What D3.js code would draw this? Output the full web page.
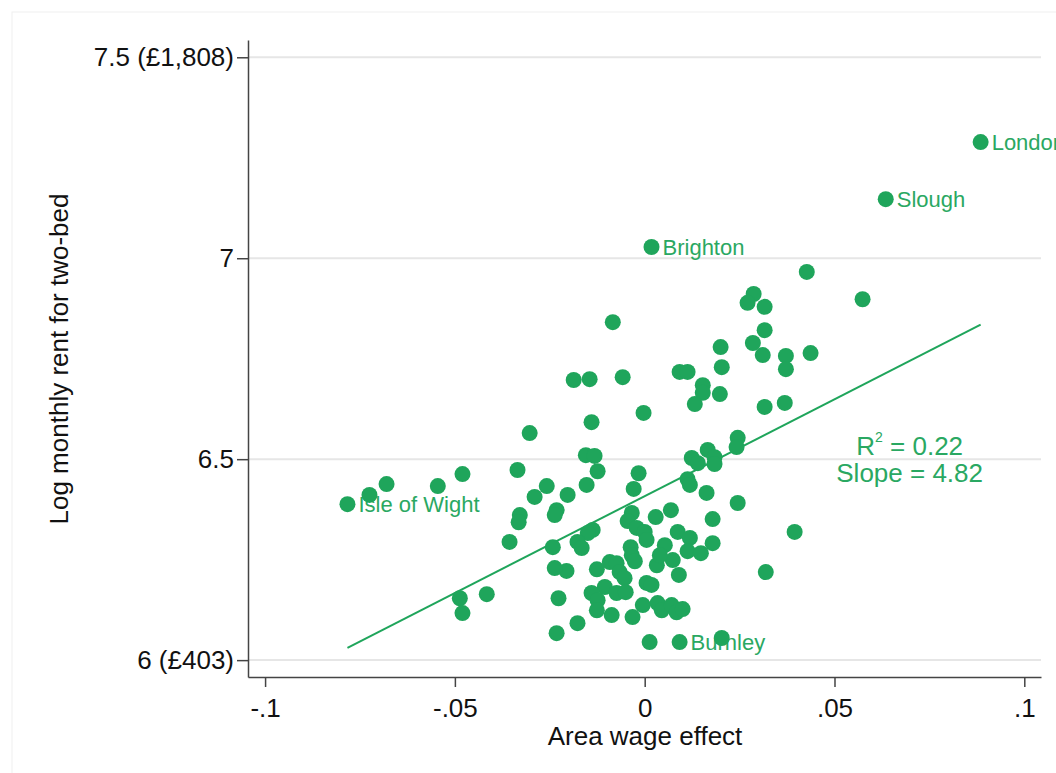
<!DOCTYPE html>
<html>
<head>
<meta charset="utf-8">
<script src="https://cdn.jsdelivr.net/npm/d3@7"></script>
<style>
    body { margin: 0; background: #fff; }
    text { font-family: "Liberation Sans", Arial, sans-serif; }
</style>
</head>
<body>
<script>
// Labelled areas
const labelNames = ["London", "Slough", "Brighton", "Isle of Wight", "Burnley"];
const labelWage = [0.0885, 0.0635, 0.0018, -0.0783, 0.0092];
const labelRent = [7.289, 7.147, 7.028, 6.388, 6.045];

// Other areas: area wage effect and log monthly rent
const wageEffect = [
    0.0427, 0.0574, 0.0287, 0.0271, 0.0316, 0.0316, 0.0285, 0.0311, 0.0200, 0.0203,
    0.0372, 0.0372, 0.0437, -0.0084, 0.0092, 0.0113, 0.0153, 0.0153, 0.0198, 0.0132,
    0.0316, 0.0369, -0.0187, -0.0145, -0.0058, -0.0140, -0.0003, -0.0303, -0.0155, -0.0132,
    -0.0124, -0.0153, -0.0016, -0.0029, 0.0124, 0.0140, 0.0166, 0.0184, 0.0184, 0.0245,
    0.0242, 0.0113, 0.0119, 0.0163, 0.0245, 0.0069, 0.0029, 0.0179, 0.0395, 0.0087,
    0.0119, 0.0053, 0.0179, 0.0113, 0.0148, 0.0074, 0.0090, 0.0319, 0.0032, 0.0005,
    0.0018, -0.0005, 0.0034, 0.0045, 0.0071, 0.0084, 0.0100, 0.0013, 0.0203, -0.0203,
    -0.0034, -0.0045, -0.0137, -0.0150, -0.0021, 0.0000, -0.0177, -0.0166, -0.0037, 0.0005,
    -0.0034, 0.0040, -0.0026, -0.0092, -0.0074, -0.0126, -0.0206, -0.0066, -0.0053, -0.0105,
    -0.0140, -0.0074, -0.0050, -0.0124, -0.0126, -0.0087, -0.0032, -0.0177, -0.0232, -0.0335,
    -0.0258, -0.0290, -0.0232, -0.0237, -0.0329, -0.0332, -0.0356, -0.0242, -0.0237, -0.0487,
    -0.0416, -0.0480, -0.0227, -0.0480, -0.0545, -0.0680, -0.0725
];
const logRent = [
    6.966, 6.898, 6.911, 6.889, 6.879, 6.821, 6.789, 6.759, 6.779, 6.729,
    6.757, 6.724, 6.764, 6.841, 6.717, 6.717, 6.684, 6.665, 6.662, 6.637,
    6.630, 6.640, 6.697, 6.699, 6.704, 6.592, 6.615, 6.565, 6.510, 6.508,
    6.470, 6.436, 6.465, 6.426, 6.503, 6.490, 6.523, 6.505, 6.488, 6.553,
    6.530, 6.450, 6.436, 6.416, 6.391, 6.373, 6.356, 6.351, 6.319, 6.319,
    6.304, 6.286, 6.291, 6.271, 6.266, 6.249, 6.212, 6.219, 6.236, 6.192,
    6.187, 6.137, 6.142, 6.124, 6.137, 6.119, 6.127, 6.045, 6.055, 6.411,
    6.366, 6.346, 6.324, 6.316, 6.329, 6.319, 6.294, 6.279, 6.281, 6.299,
    6.261, 6.261, 6.246, 6.244, 6.241, 6.226, 6.222, 6.219, 6.204, 6.182,
    6.167, 6.167, 6.169, 6.149, 6.124, 6.112, 6.107, 6.092, 6.067, 6.473,
    6.433, 6.406, 6.373, 6.361, 6.361, 6.343, 6.294, 6.281, 6.229, 6.154,
    6.164, 6.117, 6.154, 6.463, 6.433, 6.438, 6.411
];

// Fitted line
const fitIntercept = 6.408;
const fitSlope = 4.82;
const rSquared = "0.22";

// Axis ticks
const xTicks = [-0.1, -0.05, 0, 0.05, 0.1];
const xTickLabels = ["-.1", "-.05", "0", ".05", ".1"];
const yTicks = [6, 6.5, 7, 7.5];
const yTickLabels = ["6 (£403)", "6.5", "7", "7.5 (£1,808)"];

const green = "#1fa55b";
const textGreen = "#2aa862";

// Set up dimensions
const W = 1056, H = 773;
const margin = { top: 40, right: 15, bottom: 96, left: 248 };
const width = W - margin.left - margin.right;
const height = H - margin.top - margin.bottom;

const svg = d3.select("body")
    .append("svg")
    .attr("width", W)
    .attr("height", H);

// faint outer frame
svg.append("rect")
    .attr("x", 12).attr("y", 12)
    .attr("width", W).attr("height", H)
    .attr("fill", "none")
    .attr("stroke", "#efefef");

const g = svg.append("g")
    .attr("transform", `translate(${margin.left},${margin.top})`);

// Scales
const x = d3.scaleLinear().domain([-0.1045, 0.1044]).range([0, width]);
const y = d3.scaleLinear().domain([5.958, 7.543]).range([height, 0]);

// Gridlines
g.selectAll(".grid")
    .data(yTicks)
    .enter().append("line")
    .attr("class", "grid")
    .attr("x1", 0)
    .attr("x2", width)
    .attr("y1", d => y(d))
    .attr("y2", d => y(d))
    .attr("stroke", "#e6e6e6")
    .attr("stroke-width", 2);

// Axes
const yAxis = g.append("g")
    .call(d3.axisLeft(y)
        .tickValues(yTicks)
        .tickFormat((d, i) => yTickLabels[i])
        .tickSize(11)
        .tickSizeOuter(0)
        .tickPadding(3));

const xAxis = g.append("g")
    .attr("transform", `translate(0,${height})`)
    .call(d3.axisBottom(x)
        .tickValues(xTicks)
        .tickFormat((d, i) => xTickLabels[i])
        .tickSize(10)
        .tickSizeOuter(0)
        .tickPadding(12));

[xAxis, yAxis].forEach(ax => {
    ax.select(".domain").attr("stroke", "#444").attr("stroke-width", 1.5);
    ax.selectAll(".tick line").attr("stroke", "#444").attr("stroke-width", 1.5);
    ax.selectAll(".tick text")
        .style("font-family", "'Liberation Sans', Arial, sans-serif")
        .style("font-size", "26px")
        .attr("fill", "#111");
});

// Axis titles
svg.append("text")
    .attr("x", 645)
    .attr("y", 745)
    .attr("text-anchor", "middle")
    .style("font-size", "26px")
    .attr("fill", "#111")
    .text("Area wage effect");

svg.append("text")
    .attr("transform", "rotate(-90)")
    .attr("x", -359)
    .attr("y", 68)
    .attr("text-anchor", "middle")
    .style("font-size", "26px")
    .attr("fill", "#111")
    .text("Log monthly rent for two-bed");

// Fitted line across the data range
const allX = wageEffect.concat(labelWage);
const xMin = d3.min(allX), xMax = d3.max(allX);
g.append("line")
    .attr("x1", x(xMin))
    .attr("y1", y(fitIntercept + fitSlope * xMin))
    .attr("x2", x(xMax))
    .attr("y2", y(fitIntercept + fitSlope * xMax))
    .attr("stroke", green)
    .attr("stroke-width", 2);

// Point labels
g.selectAll(".lbl")
    .data(labelNames)
    .enter().append("text")
    .attr("class", "lbl")
    .attr("x", (d, i) => x(labelWage[i]) + 11)
    .attr("y", (d, i) => y(labelRent[i]))
    .attr("dy", "0.35em")
    .style("font-size", "22px")
    .attr("fill", textGreen)
    .text(d => d);

// Points
const points = wageEffect.map((d, i) => [d, logRent[i]])
    .concat(labelWage.map((d, i) => [d, labelRent[i]]));

g.selectAll(".dot")
    .data(points)
    .enter().append("circle")
    .attr("class", "dot")
    .attr("cx", d => x(d[0]))
    .attr("cy", d => y(d[1]))
    .attr("r", 8)
    .attr("fill", green);

// R-squared and slope
const stats = g.append("text")
    .attr("x", x(0.0698))
    .attr("y", y(6.51))
    .attr("text-anchor", "middle")
    .style("font-size", "26px")
    .attr("fill", textGreen);
stats.append("tspan").text("R");
stats.append("tspan").attr("dy", -13).style("font-size", "14px").text("2");
stats.append("tspan").attr("dy", 13).text(" = " + rSquared);

g.append("text")
    .attr("x", x(0.0698))
    .attr("y", y(6.443))
    .attr("text-anchor", "middle")
    .style("font-size", "26px")
    .attr("fill", textGreen)
    .text("Slope = " + fitSlope.toFixed(2));
</script>
</body>
</html>
